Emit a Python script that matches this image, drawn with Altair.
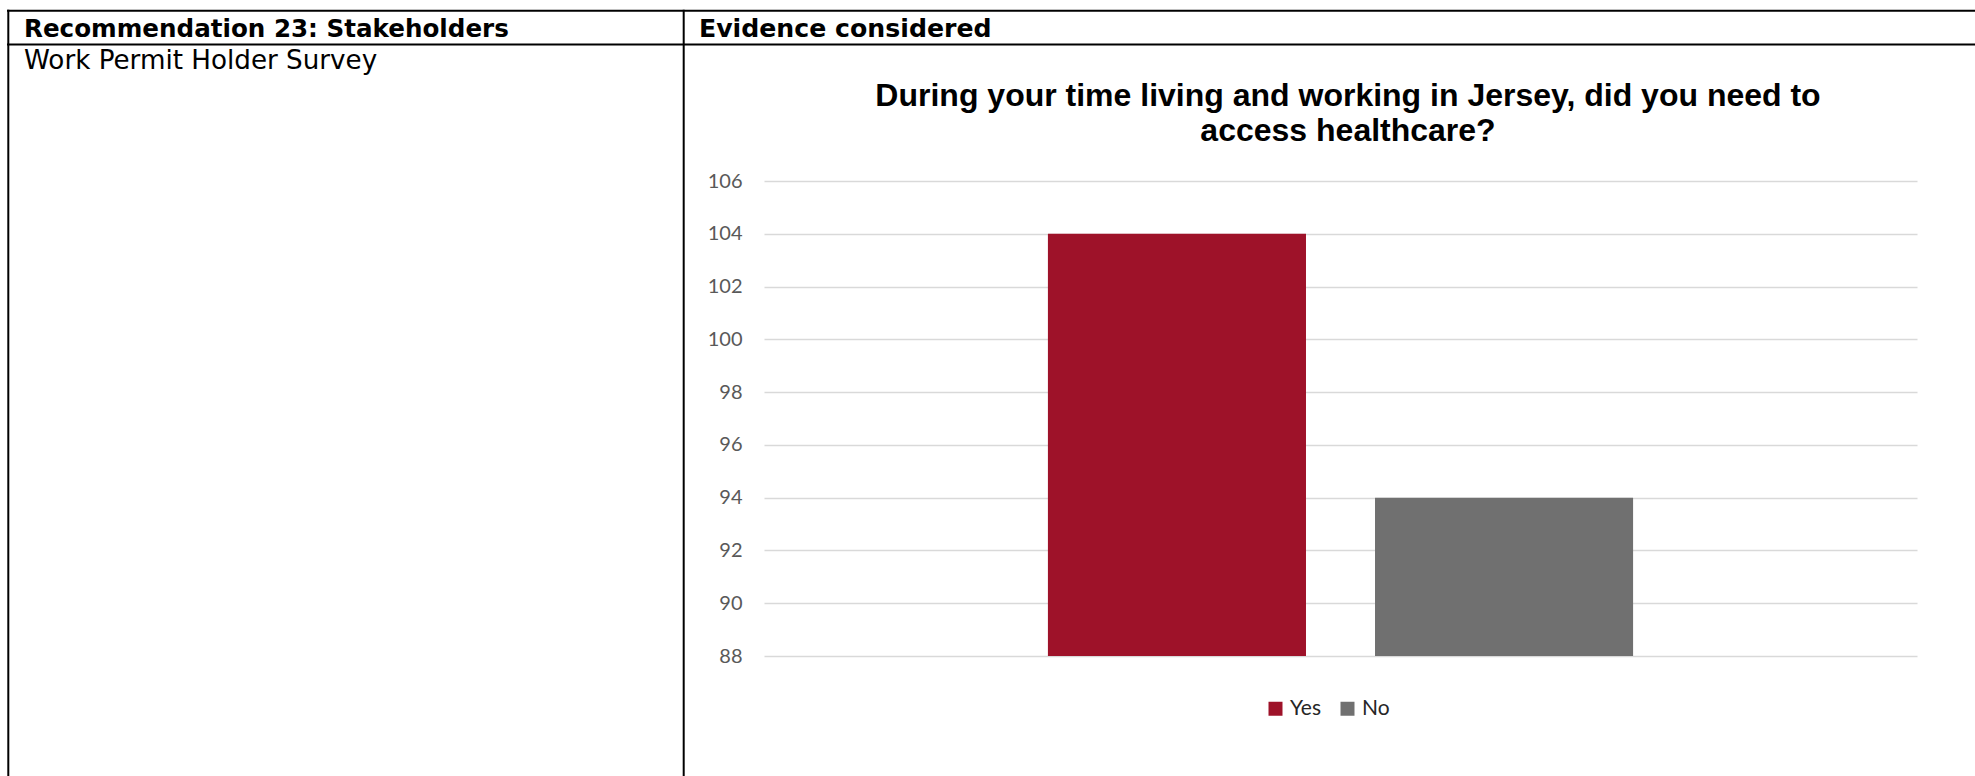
import altair as alt
import pandas as pd

# ---- data ----
categories = ["Yes", "No"]
counts = [104, 94]
y_ticks = [88, 90, 92, 94, 96, 98, 100, 102, 104, 106]
y_min, y_max = 88, 106
bar_colors = ["#9E1229", "#707070"]
title_lines = [
    "During your time living and working in Jersey, did you need to",
    "access healthcare?",
]
header_left = "Recommendation 23: Stakeholders"
header_right = "Evidence considered"
row_left = "Work Permit Holder Survey"

df = pd.DataFrame({"answer": categories, "count": counts, "base": [y_min] * len(categories)})
one = pd.DataFrame({"k": [0]})

# plot-area geometry (pixels)
W, H = 1153, 475
L, T = 764, 181
R = 1975 - L - W
B = 776 - T - H

bars = alt.Chart(df).mark_bar().encode(
    x=alt.X("answer:N", sort=categories,
            scale=alt.Scale(domain=categories, paddingInner=0.211, paddingOuter=0.868),
            axis=None),
    y=alt.Y("count:Q",
            scale=alt.Scale(domain=[y_min, y_max], zero=False, nice=False),
            axis=alt.Axis(values=y_ticks, title=None, ticks=False, domain=False, grid=True,
                          gridColor="#D9D9D9", gridWidth=1.5, labelFont="Lato",
                          labelFontSize=20, labelColor="#595959", labelPadding=22)),
    y2="base:Q",
    color=alt.Color("answer:N",
                    scale=alt.Scale(domain=categories, range=bar_colors),
                    legend=alt.Legend(title=None, orient="none", direction="horizontal",
                                      legendX=501, legendY=517, padding=0,
                                      symbolType="square", symbolSize=196,
                                      symbolStrokeWidth=0, labelFont="Lato",
                                      labelFontSize=21, labelColor="#262626",
                                      labelOffset=4, columnPadding=16)),
)


def text_layer(txt, x, y, font, size, weight="normal", align="left"):
    return alt.Chart(one).mark_text(
        text=txt, font=font, fontSize=size, fontWeight=weight, align=align,
        baseline="alphabetic", color="black"
    ).encode(x=alt.value(x), y=alt.value(y))


def hrule(y, x1, x2):
    return alt.Chart(one).mark_rule(color="black", strokeWidth=2).encode(
        x=alt.value(x1), x2=alt.value(x2), y=alt.value(y))


def vrule(x, y1, y2):
    return alt.Chart(one).mark_rule(color="black", strokeWidth=2).encode(
        x=alt.value(x), y=alt.value(y1), y2=alt.value(y2))


decor = [
    hrule(10.8 - T, 7 - L, 1975 - L),
    hrule(44.5 - T, 7 - L, 1975 - L),
    vrule(8.3 - L, 9.8 - T, 776 - T),
    vrule(683.7 - L, 9.8 - T, 776 - T),
    text_layer(header_left, 24 - L, 36.5 - T, "DejaVu Sans", 24.6, "bold"),
    text_layer(header_right, 699 - L, 37 - T, "DejaVu Sans", 25.2, "bold"),
    text_layer(row_left, 24 - L, 68.5 - T, "DejaVu Sans", 26.2),
    text_layer(title_lines[0], 1348 - L, 106 - T, "Liberation Sans", 32, "bold", "center"),
    text_layer(title_lines[1], 1348 - L, 141 - T, "Liberation Sans", 32, "bold", "center"),
]

chart = alt.layer(bars, *decor).properties(
    width=W, height=H,
    background="white",
    padding={"left": L, "top": T, "right": R, "bottom": B},
    autosize=alt.AutoSizeParams(type="none"),
).configure_view(stroke="transparent", strokeWidth=0)

chart.save("out.html", embed_options={"renderer": "svg", "actions": False})
